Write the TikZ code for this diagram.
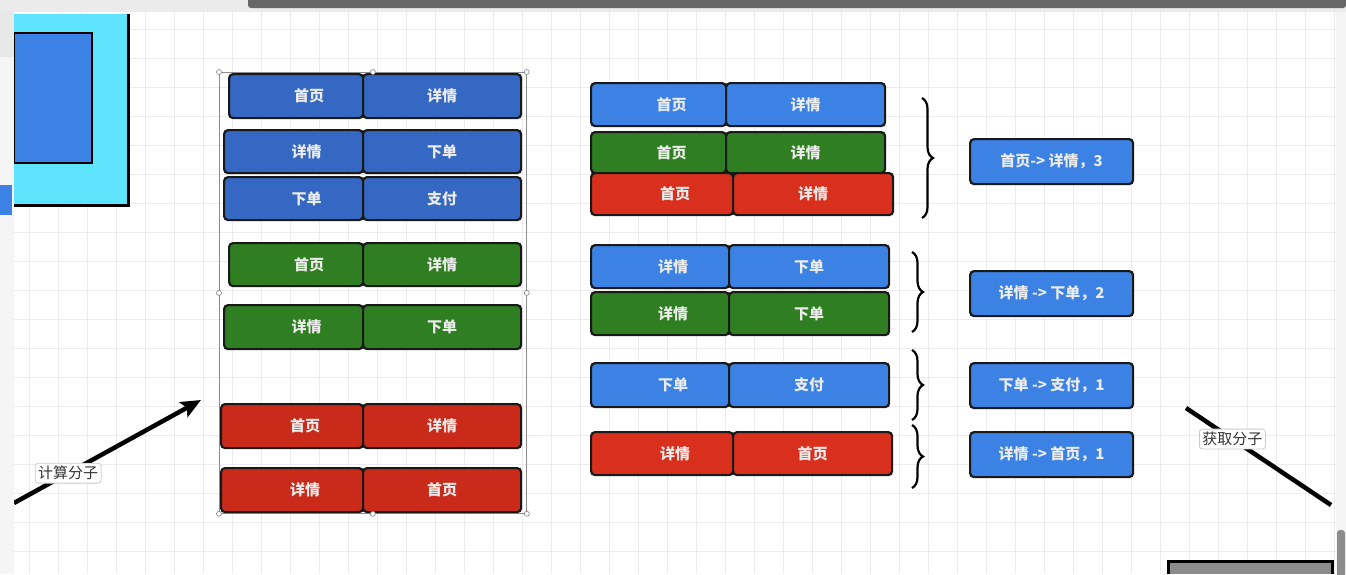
\documentclass[tikz,border=0pt]{standalone}
\usepackage{fontspec}
\newfontfamily\cjk{Noto Sans CJK SC}
\usepackage{xcolor}
\usepackage{tikz}
\usetikzlibrary{arrows.meta,positioning,decorations.pathreplacing}

\definecolor{barblue}{HTML}{3568C2}
\definecolor{skyblue}{HTML}{3B82E4}
\definecolor{bargreen}{HTML}{2F7E21}
\definecolor{barred}{HTML}{C92A19}
\definecolor{brightred}{HTML}{D9301E}
\definecolor{cyanbox}{HTML}{5EE4FC}
\definecolor{gridc}{HTML}{ECECEC}

\begin{document}
\begin{tikzpicture}[
  x=1pt, y=-1pt,
  font=\cjk\bfseries\fontsize{15}{18}\selectfont,
  >={Stealth[length=20pt, width=17pt, inset=4pt]},
  cell/.style={draw=black!90, line width=2.2pt, rounded corners=4pt,
               text=white!92!black, inner sep=0pt, minimum height=44pt},
  lcell/.style={cell, anchor=north west, execute at begin node={\hspace*{26pt}}},
  res/.style={cell, fill=skyblue, minimum width=163pt, minimum height=45pt, anchor=north west},
  lab/.style={draw=black!20, line width=0.8pt, fill=white, rounded corners=3pt, inner sep=3pt,
              text=black!80, font=\cjk\fontsize{15}{17}\selectfont},
  handle/.style={circle, draw=black!50, fill=white, inner sep=0pt,
                 minimum size=5pt, line width=0.6pt},
  brc/.style={decorate, decoration={brace, amplitude=11pt}, line width=2.2pt},
  node distance=-2.2pt
]
\useasboundingbox (0,0) rectangle (1346,574);

% ---------- canvas ----------
\fill[white] (0,0) rectangle (1346,574);
\draw[gridc, line width=0.7pt, step=29pt] (14,574) grid (1336,12);

% cut-off shape at the left
\fill[cyanbox] (14,14) rectangle (128,205);
\draw[line width=3pt] (128,14) -- (128,205) -- (14,205);
\draw[fill=skyblue, line width=2.5pt] (14,33) rectangle (92,163);

% ---------- left: all pairs ----------
\node[draw=black!45, line width=0.8pt, minimum width=307pt, minimum height=441pt,
      anchor=north west, inner sep=0pt] (sel) at (219,72) {};

\node[lcell, fill=barblue, minimum width=134pt] (l1a) at (228,73) {首页};
\node[cell, fill=barblue, minimum width=158pt, right=of l1a] (l1b) {详情};
\node[lcell, fill=barblue, minimum width=139pt, minimum height=43pt] (l2a) at (223,129) {详情};
\node[cell, fill=barblue, minimum width=158pt, minimum height=43pt, right=of l2a] (l2b) {下单};
\node[lcell, fill=barblue, minimum width=139pt, minimum height=43pt] (l3a) at (223,176) {下单};
\node[cell, fill=barblue, minimum width=158pt, minimum height=43pt, right=of l3a] (l3b) {支付};

\node[lcell, fill=bargreen, minimum width=134pt, minimum height=43pt] (l4a) at (228,242) {首页};
\node[cell, fill=bargreen, minimum width=158pt, minimum height=43pt, right=of l4a] (l4b) {详情};
\node[lcell, fill=bargreen, minimum width=139pt] (l5a) at (223,304) {详情};
\node[cell, fill=bargreen, minimum width=158pt, right=of l5a] (l5b) {下单};

\node[lcell, fill=barred, minimum width=142pt] (l6a) at (220,403) {首页};
\node[cell, fill=barred, minimum width=158pt, right=of l6a] (l6b) {详情};
\node[lcell, fill=barred, minimum width=142pt] (l7a) at (220,467) {详情};
\node[cell, fill=barred, minimum width=158pt, right=of l7a] (l7b) {首页};

\foreach \a in {north west,north,north east,west,east,south west,south,south east}
  \node[handle] at (sel.\a) {};

% ---------- middle: grouped pairs ----------
\node[lcell, fill=skyblue, minimum width=135pt, minimum height=43pt] (m1a) at (590,82) {首页};
\node[cell, fill=skyblue, minimum width=159pt, minimum height=43pt, right=of m1a] (m1b) {详情};
\node[lcell, fill=bargreen, minimum width=135pt, minimum height=41pt] (m2a) at (590,131) {首页};
\node[cell, fill=bargreen, minimum width=159pt, minimum height=41pt, right=of m2a] (m2b) {详情};
\node[lcell, fill=brightred, minimum width=142pt, minimum height=42pt] (m3a) at (590,172) {首页};
\node[cell, fill=brightred, minimum width=160pt, minimum height=42pt, right=of m3a] (m3b) {详情};

\node[lcell, fill=skyblue, minimum width=138pt, minimum height=43pt] (m4a) at (590,244) {详情};
\node[cell, fill=skyblue, minimum width=160pt, minimum height=43pt, right=of m4a] (m4b) {下单};
\node[lcell, fill=bargreen, minimum width=138pt, minimum height=43pt] (m5a) at (590,291) {详情};
\node[cell, fill=bargreen, minimum width=160pt, minimum height=43pt, right=of m5a] (m5b) {下单};

\node[lcell, fill=skyblue, minimum width=138pt] (m6a) at (590,362) {下单};
\node[cell, fill=skyblue, minimum width=160pt, right=of m6a] (m6b) {支付};

\node[lcell, fill=brightred, minimum width=142pt, minimum height=43pt] (m7a) at (590,431) {详情};
\node[cell, fill=brightred, minimum width=159pt, minimum height=43pt, right=of m7a] (m7b) {首页};

% braces
\draw[brc] (922,98) -- (922,218);
\draw[brc] (912,252) -- (912,332);
\draw[brc] (912,350) -- (912,420);
\draw[brc] (912,425) -- (912,488);

% ---------- right: counts ----------
\node[res] (r1) at (969,138) {首页-> 详情，3};
\node[res] (r2) at (969,270) {详情 -> 下单，2};
\node[res] (r3) at (969,362) {下单 -> 支付，1};
\node[res] (r4) at (969,431) {详情 -> 首页，1};

% ---------- connectors ----------
\coordinate (cstart) at (14,503);
\coordinate (cend)   at (201,400);
\draw[->, line width=4.5pt] (cstart) -- node[lab, pos=0.29] (calc) {计算分子} (cend);

\coordinate (gstart) at (1186,408);
\coordinate (gend)   at (1331,505);
\draw[line width=4.5pt] (gstart) -- node[lab, pos=0.32] (fetch) {获取分子} (gend);

% ---------- window edges ----------
\fill[black!4] (0,12) rectangle (14,574);
\fill[black!9] (0,12) rectangle (14,57);
\fill[skyblue] (0,185) rectangle (12,215);
\fill[black!8] (0,0) rectangle (1346,12);
\fill[black!60, rounded corners=3pt] (248,-4) rectangle (1346,8);
\fill[black!4] (1336,12) rectangle (1346,574);
\fill[black!45, rounded corners=3pt] (1337,530) rectangle (1345,580);
\fill[black!45] (1168,561) rectangle (1332,574);
\draw[line width=3pt] (1168,574) -- (1168,561) -- (1332,561) -- (1332,574);

\end{tikzpicture}
\end{document}
